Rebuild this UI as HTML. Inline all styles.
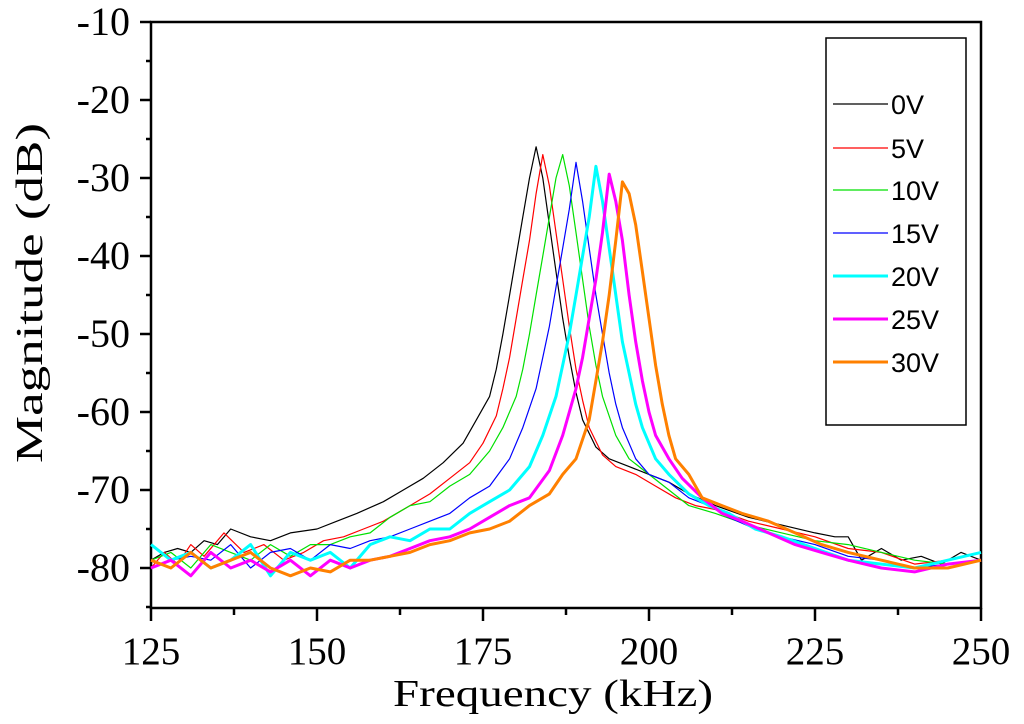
<!DOCTYPE html>
<html><head><meta charset="utf-8"><style>
html,body{margin:0;padding:0;background:#fff;}
svg{display:block;}
</style></head><body>
<svg id="chart" width="1024" height="724" viewBox="0 0 1024 724" xmlns="http://www.w3.org/2000/svg">
<g id="axes"></g>
<g id="plot"></g>
<g id="legend"></g>
</svg>
<script>
const xTicks = [125, 150, 175, 200, 225, 250];
const yTicks = [-10, -20, -30, -40, -50, -60, -70, -80];
const seriesNames = ["0V", "5V", "10V", "15V", "20V", "25V", "30V"];
const freq0 = [125,127,129,131,133,135,137,140,143,146,150,153,156,160,163,166,169,172,174,176,177,178,179,180,181,182,183,184,185,186,187,188,189,190,192,194,197,200,203,206,210,215,220,225,228,230,232,235,238,241,244,247,250];
const mag0 = [-79,-78,-77.5,-78,-76.5,-77,-75,-76,-76.5,-75.5,-75,-74,-73,-71.5,-70,-68.5,-66.5,-64,-61,-58,-54.5,-50,-45,-40,-35,-30,-26,-30,-36,-42,-48,-53,-57.5,-61,-64.5,-66,-67,-68,-69,-70.5,-72,-73.5,-74.5,-75.5,-76,-76,-79,-77.5,-79,-78.5,-79.5,-78,-79];
const freq1 = [125,127,129,131,133,136,139,142,145,148,151,154,157,160,164,167,170,173,175,177,178,179,180,181,182,183,184,185,186,187,188,189,190,191,193,195,198,201,204,207,210,215,220,225,230,235,240,245,250];
const mag1 = [-80,-78,-79.5,-77,-78.5,-75.5,-78,-77,-79,-78,-76.5,-76,-75,-74,-72,-70.5,-68.5,-66.5,-64,-60.5,-57,-53,-48,-43,-38,-32,-27,-31,-37,-43,-49,-54.5,-58.5,-62,-65.5,-67,-68,-69.5,-71,-72,-72.5,-74,-75,-76,-77.5,-78,-79.5,-79,-78];
const freq2 = [125,128,131,134,137,140,143,146,149,152,155,158,161,164,167,170,173,176,178,180,181,182,183,184,185,186,187,188,189,190,191,192,193,195,197,200,203,206,210,215,220,225,230,235,240,245,250];
const mag2 = [-79,-78,-80,-77,-78,-79,-77,-78.5,-77,-77,-76,-75.5,-73.5,-72,-71.5,-69.5,-68,-65,-62,-58,-54.5,-50,-45,-40,-35,-30,-27,-31,-37,-43,-49,-54,-58,-63,-66,-68,-70,-72,-73,-74.5,-75.5,-76.5,-77,-78,-79,-79.5,-79];
const freq3 = [125,128,131,134,137,140,143,146,149,152,155,158,161,164,167,170,173,176,179,181,183,184,185,186,187,188,189,190,191,192,193,194,195,196,198,200,203,206,209,212,216,220,225,230,235,240,245,250];
const mag3 = [-80,-79,-78.5,-79,-77,-80,-78,-77.5,-79,-77,-77.5,-76.5,-76,-75,-74,-73,-71,-69.5,-66,-62,-57,-53,-49,-44,-39,-34,-28,-33,-39,-45,-50,-55,-59,-62,-66,-68,-69,-71,-72,-73.5,-75,-76,-77,-78.5,-79,-80,-79.5,-79];
const freq4 = [125,128,131,134,137,140,143,146,149,152,155,158,161,164,167,170,173,176,179,182,184,186,187,188,189,190,191,192,193,194,195,196,197,198,199,201,203,206,209,212,216,220,225,230,235,240,245,250];
const mag4 = [-77,-79,-78,-80,-79,-77,-81,-78,-79,-78,-80,-77,-76,-76.5,-75,-75,-73,-71.5,-70,-67,-63,-58,-54,-50,-45,-40,-35,-28.5,-33,-39,-45,-51,-55,-59,-62,-66,-68,-70.5,-72,-73,-75,-76,-77.5,-79,-79.5,-80,-79,-78];
const freq5 = [125,128,131,134,137,140,143,146,149,152,155,158,161,164,167,170,173,176,179,182,185,187,189,190,191,192,193,194,195,196,197,198,199,200,201,203,205,208,211,214,218,222,226,230,235,240,245,250];
const mag5 = [-80,-79,-81,-78,-80,-79,-80.5,-79,-81,-79,-80,-79,-78.5,-77.5,-76.5,-76,-75,-73.5,-72,-71,-67.5,-63,-57,-53,-48,-43,-37,-29.5,-33,-38,-45,-51,-56,-60,-63,-66,-68.5,-71,-73,-74,-75.5,-77,-78,-79,-80,-80.5,-79.5,-79];
const freq6 = [125,128,131,134,137,140,143,146,149,152,155,158,161,164,167,170,173,176,179,182,185,187,189,191,192,193,194,195,196,197,198,199,200,201,202,203,204,206,208,211,214,218,222,226,230,235,240,245,250];
const mag6 = [-79,-80,-78,-80,-79,-78,-80,-81,-80,-80.5,-79,-79,-78.5,-78,-77,-76.5,-75.5,-75,-74,-72,-70.5,-68,-66,-61,-56,-51,-45,-38,-30.5,-32,-36,-42,-48,-54,-59,-63,-66,-68,-71,-72,-73,-74,-75.5,-77,-78,-79,-80,-80,-79];

const colors = ["#000000","#ff0000","#00e000","#0000ff","#00ffff","#ff00ff","#ff8000"];
const widths = [1.2,1.2,1.2,1.2,3,3,3];
const freqs = [freq0,freq1,freq2,freq3,freq4,freq5,freq6];
const mags = [mag0,mag1,mag2,mag3,mag4,mag5,mag6];

const L=151, R=981, T=22, B=608;
const xMin=125, xMax=250;
const yTop=22, yPer=78;
function xs(f){return L+(f-xMin)/(xMax-xMin)*(R-L);}
function ys(v){return yTop+(-10-v)*yPer/10;}
const NS="http://www.w3.org/2000/svg";
function mk(tag,attrs,parent){const e=document.createElementNS(NS,tag);for(const k in attrs)e.setAttribute(k,attrs[k]);parent.appendChild(e);return e;}

const axes=document.getElementById('axes');
const frame=mk('rect',{x:L,y:T,width:R-L,height:B-T,fill:'none',stroke:'#000','stroke-width':2.5},axes);


const tf='"Liberation Serif", serif';
for(const t of xTicks){
  const x=xs(t);
  const tk=mk('line',{x1:x,x2:x,y1:B,y2:B+13,stroke:'#000','stroke-width':2.5},axes);
  
  
  const lb=mk('text',{x:x,y:664,'text-anchor':'middle','font-family':tf,'font-size':39},axes);
  lb.textContent=t;
  
  
}
for(let i=0;i<xTicks.length-1;i++){
  const x=xs((xTicks[i]+xTicks[i+1])/2);
  const tk=mk('line',{x1:x,x2:x,y1:B,y2:B+7,stroke:'#000','stroke-width':2.5},axes);
  
  
}
for(const t of yTicks){
  const y=ys(t);
  const tk=mk('line',{x1:L-11,x2:L,y1:y,y2:y,stroke:'#000','stroke-width':2.5},axes);
  
  
  const lb=mk('text',{x:130,y:y+13,'text-anchor':'end','font-family':tf,'font-size':40},axes);
  lb.textContent=t;
  
  
}
for(let v=-15;v>=-85;v-=10){
  const y=ys(v);
  const tk=mk('line',{x1:L-5,x2:L,y1:y,y2:y,stroke:'#000','stroke-width':2.5},axes);
  
  
}
const xt=mk('text',{x:553,y:706,'text-anchor':'middle','font-family':tf,'font-size':38,textLength:320,lengthAdjust:'spacingAndGlyphs'},axes);
xt.textContent='Frequency (kHz)';


const yt=mk('text',{x:0,y:0,'text-anchor':'middle','font-family':tf,'font-size':38,textLength:340,lengthAdjust:'spacingAndGlyphs',transform:'translate(42,293) rotate(-90)'},axes);
yt.textContent='Magnitude (dB)';



const plot=document.getElementById('plot');
for(let s=0;s<freqs.length;s++){
  const pts=freqs[s].map((f,i)=>xs(f).toFixed(1)+','+ys(mags[s][i]).toFixed(1)).join(' ');
  const pl=mk('polyline',{points:pts,fill:'none',stroke:colors[s],'stroke-width':widths[s],'stroke-linejoin':'round'},plot);
  
  
}

const lg=document.getElementById('legend');
const box=mk('rect',{x:826,y:38,width:140,height:387,fill:'#fff',stroke:'#000','stroke-width':1.5},lg);


const legY=[104,148,190,233,276,319,362];
for(let s=0;s<seriesNames.length;s++){
  const y=legY[s];
  const ln=mk('line',{x1:833,x2:888,y1:y,y2:y,stroke:colors[s],'stroke-width':widths[s]},lg);
  
  
  const tx=mk('text',{x:891,y:y+10,'font-family':'"Liberation Sans", sans-serif','font-size':27},lg);
  tx.textContent=seriesNames[s];
  
  
}
</script>
</body></html>
